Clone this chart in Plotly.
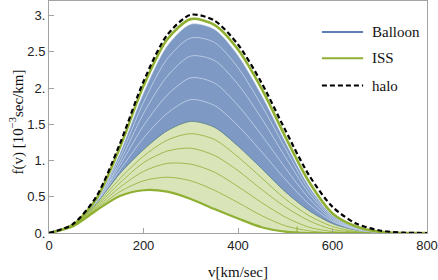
import plotly.graph_objects as go

# ---------------- data ----------------
v_grid = [0, 50, 100, 150, 200, 250, 300, 350, 400, 450, 500, 550, 600, 650, 700, 750, 800]

halo = [0, 0.12, 0.50, 1.23, 2.09, 2.73, 3.01, 2.93, 2.60, 2.07, 1.42, 0.80, 0.36, 0.13, 0.035, 0.005, 0]

iss_top = [0, 0.11, 0.47, 1.18, 2.03, 2.67, 2.95, 2.87, 2.53, 1.99, 1.33, 0.71, 0.27, 0.09, 0.017, 0, 0]

iss_g0 = [0, 0.09, 0.31, 0.51, 0.59, 0.57, 0.47, 0.33, 0.20, 0.08, 0.02, 0, 0, 0, 0, 0, 0]
iss_g1 = [0, 0.10, 0.33, 0.57, 0.72, 0.77, 0.72, 0.59, 0.42, 0.24, 0.10, 0.03, 0, 0, 0, 0, 0]
iss_g2 = [0, 0.10, 0.35, 0.63, 0.85, 0.96, 0.95, 0.84, 0.64, 0.42, 0.22, 0.08, 0.02, 0, 0, 0, 0]
iss_g3 = [0, 0.11, 0.37, 0.69, 0.97, 1.13, 1.17, 1.07, 0.86, 0.60, 0.36, 0.17, 0.05, 0.01, 0, 0, 0]
iss_g4 = [0, 0.11, 0.39, 0.75, 1.06, 1.28, 1.37, 1.29, 1.05, 0.76, 0.47, 0.24, 0.09, 0.02, 0, 0, 0]
iss_g5 = [0, 0.12, 0.41, 0.82, 1.15, 1.41, 1.54, 1.46, 1.20, 0.89, 0.57, 0.31, 0.13, 0.04, 0.005, 0, 0]

iss_cut_v = [525, 525]
iss_cut_f = [0.0, 0.09]

balloon_b0 = [0, 0.12, 0.41, 0.82, 1.15, 1.41, 1.54, 1.46, 1.20, 0.89, 0.57, 0.31, 0.13, 0.04, 0.005, 0, 0]
balloon_b1 = [0, 0.12, 0.42, 0.87, 1.31, 1.65, 1.84, 1.76, 1.48, 1.12, 0.74, 0.40, 0.16, 0.045, 0.006, 0, 0]
balloon_b2 = [0, 0.12, 0.43, 0.93, 1.48, 1.90, 2.14, 2.07, 1.76, 1.35, 0.90, 0.48, 0.18, 0.05, 0.007, 0, 0]
balloon_b3 = [0, 0.12, 0.43, 0.98, 1.65, 2.16, 2.44, 2.38, 2.05, 1.58, 1.05, 0.55, 0.20, 0.055, 0.008, 0, 0]
balloon_b4 = [0, 0.11, 0.44, 1.04, 1.80, 2.40, 2.69, 2.63, 2.28, 1.76, 1.17, 0.60, 0.22, 0.06, 0.01, 0, 0]
balloon_b5 = [0, 0.11, 0.44, 1.10, 1.93, 2.58, 2.88, 2.81, 2.45, 1.90, 1.26, 0.65, 0.24, 0.07, 0.01, 0, 0]

iss_curves = [iss_g0, iss_g1, iss_g2, iss_g3, iss_g4, iss_g5]
balloon_curves = [balloon_b0, balloon_b1, balloon_b2, balloon_b3, balloon_b4, balloon_b5]

x_tickvals = [0, 200, 400, 600, 800]
x_ticktext = ["0", "200", "400", "600", "800"]
y_tickvals = [0, 0.5, 1, 1.5, 2, 2.5, 3]
y_ticktext = ["0.", "0.5", "1.", "1.5", "2.", "2.5", "3."]

legend_names = ["Balloon", "ISS", "halo"]
x_title = "v[km/sec]"
y_title = "f(v) [10<sup>−3</sup>sec/km]"

# ---------------- styling ----------------
BLUE = "#5E81B5"
GREEN = "#8FB032"
FRAME = "#A3A3A3"
SERIF = "Liberation Serif, Times New Roman, serif"
SANS = "Liberation Sans, Arial, sans-serif"

fig = go.Figure()

# ISS family (green fan)
for i, ys in enumerate(iss_curves):
    fig.add_trace(go.Scatter(
        x=v_grid, y=ys, mode="lines",
        line=dict(color=GREEN if i == 0 else "rgba(143,176,50,0.9)",
                  width=2.2 if i == 0 else 0.9, shape="spline", smoothing=0.8),
        fill=None if i == 0 else "tonexty",
        fillcolor="rgba(143,176,50,0.34)",
        showlegend=False, hoverinfo="skip"))

fig.add_trace(go.Scatter(x=iss_cut_v, y=iss_cut_f, mode="lines",
                         line=dict(color=GREEN, width=1),
                         showlegend=False, hoverinfo="skip"))

# Balloon family (blue fan)
for i, ys in enumerate(balloon_curves):
    fig.add_trace(go.Scatter(
        x=v_grid, y=ys, mode="lines",
        line=dict(color="rgba(205,218,238,0.85)" if i > 0 else BLUE, width=0.7,
                  shape="spline", smoothing=0.8),
        fill=None if i == 0 else "tonexty",
        fillcolor="rgba(94,129,181,0.80)",
        showlegend=False, hoverinfo="skip"))

# top ISS curve
fig.add_trace(go.Scatter(x=v_grid, y=iss_top, mode="lines",
                         line=dict(color=GREEN, width=2.6, shape="spline", smoothing=0.8),
                         showlegend=False, hoverinfo="skip"))

# halo
fig.add_trace(go.Scatter(x=v_grid, y=halo, mode="lines",
                         line=dict(color="black", width=2.2, dash="5px,3px",
                                   shape="spline", smoothing=0.8),
                         showlegend=False, hoverinfo="skip"))

# ---------------- manual legend ----------------
leg_x0, leg_x1, leg_tx = 0.722, 0.831, 0.849
leg_ys = [0.8666, 0.7532, 0.6354]
leg_styles = [dict(color=BLUE, width=2), dict(color=GREEN, width=2),
              dict(color="black", width=2, dash="5px,3px")]
for name, yy, st in zip(legend_names, leg_ys, leg_styles):
    fig.add_shape(type="line", xref="paper", yref="paper",
                  x0=leg_x0, x1=leg_x1, y0=yy, y1=yy, line=st)
    fig.add_annotation(xref="paper", yref="paper", x=leg_tx, y=yy,
                       text=name, showarrow=False, xanchor="left", yanchor="middle",
                       font=dict(family=SERIF, size=15, color="#111"))

# axis titles
fig.add_annotation(xref="paper", yref="paper", x=0.5, y=-0.167, text=x_title,
                   showarrow=False, xanchor="center", yanchor="middle",
                   font=dict(family=SERIF, size=15, color="#111"))
fig.add_annotation(xref="paper", yref="paper", x=-0.085, y=0.48, text=y_title,
                   showarrow=False, xanchor="center", yanchor="middle", textangle=-90,
                   font=dict(family=SERIF, size=15, color="#111"))

axis_common = dict(showline=True, linecolor=FRAME, linewidth=1, mirror=True,
                   ticks="inside", ticklen=5, tickcolor=FRAME, tickwidth=1,
                   showgrid=False, zeroline=False, automargin=False,
                   tickfont=dict(family=SANS, size=13, color="#222"))

fig.update_layout(
    width=438, height=280,
    margin=dict(l=49, r=11, t=1, b=47),
    paper_bgcolor="white", plot_bgcolor="white",
    xaxis=dict(range=[0, 800], tickvals=x_tickvals, ticktext=x_ticktext, **axis_common),
    yaxis=dict(range=[0, 3.2], tickvals=y_tickvals, ticktext=y_ticktext, **axis_common),
)

fig.write_html("out.html", config={"displayModeBar": False},
               post_script="document.body.style.margin='0px';document.body.style.padding='0px';")
